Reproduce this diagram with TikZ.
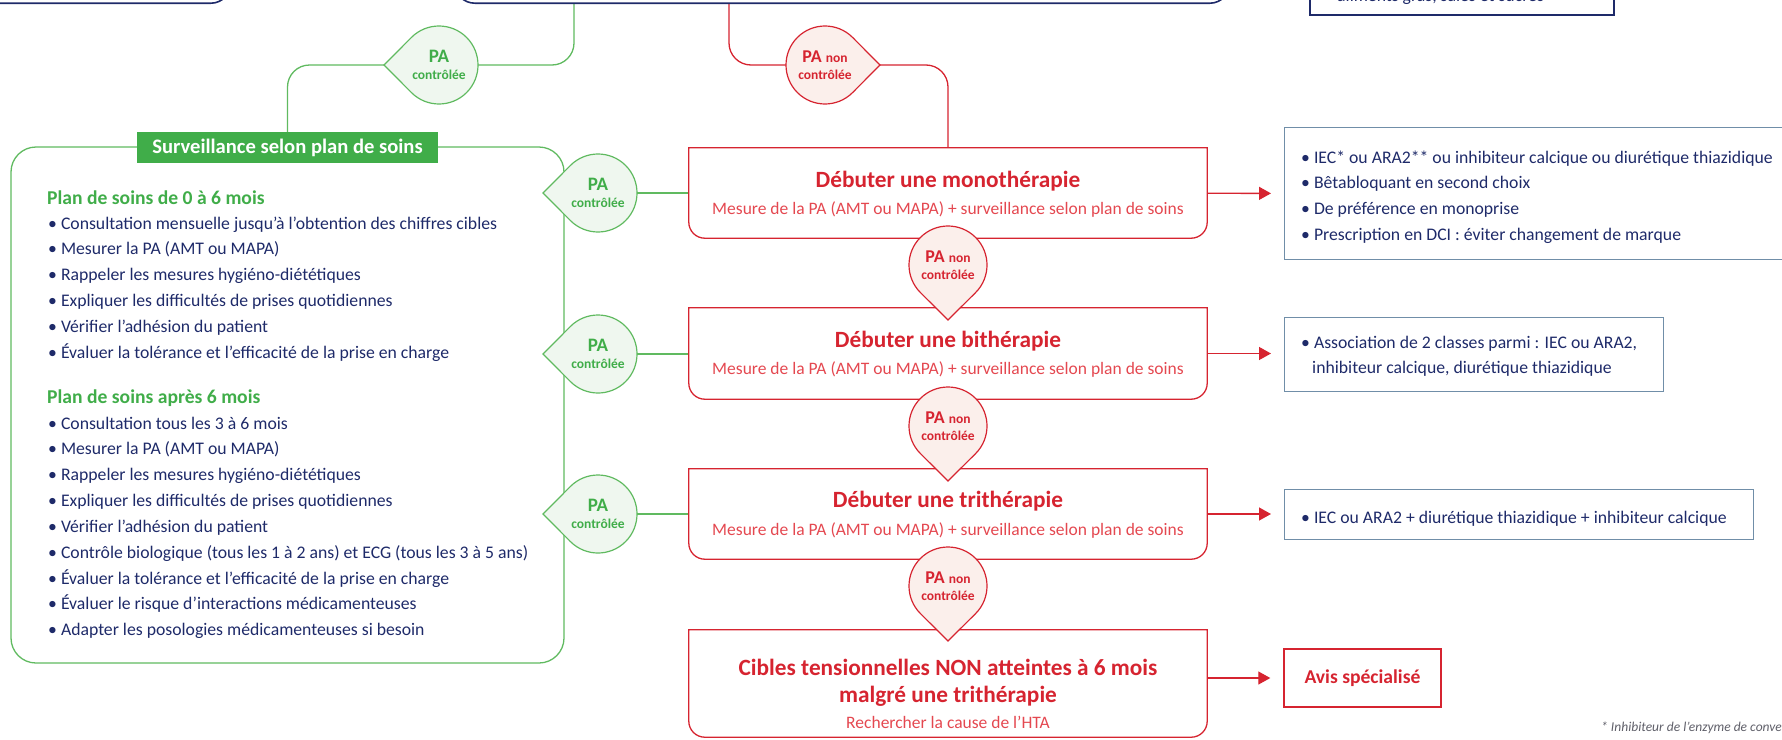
\documentclass[tikz,border=0pt]{standalone}
\usepackage{fontspec}
\setmainfont{Carlito}
\usetikzlibrary{calc,arrows.meta}

\definecolor{hgreen}{RGB}{64,173,73}
\definecolor{hgline}{RGB}{96,186,96}
\definecolor{hgfill}{RGB}{239,247,239}
\definecolor{hred}{RGB}{214,36,48}
\definecolor{hredtxt}{RGB}{228,72,80}
\definecolor{hrfill}{RGB}{251,239,235}
\definecolor{hnavy}{RGB}{30,42,105}
\definecolor{hblue}{RGB}{112,142,168}
\definecolor{hgrey}{RGB}{95,95,105}

\pgfdeclarelayer{background}
\pgfsetlayers{background,main}

\newcommand{\fsz}[2]{\fontsize{#1}{#2}\selectfont}

% droplet: name, centre, tip angle, colour prefix, first line
\newcommand{\drop}[5]{%
  \filldraw[#4drop] ($(#2)+(#3:55)$) -- ($(#2)+(#3+45:39)$)
    arc[start angle=#3+45, delta angle=270, radius=39] -- cycle;
  \node[circle, minimum size=78pt, inner sep=0pt] (#1) at (#2) {};
  \node[#4droptxt, anchor=base] (#1-a) at ($(#2)+(0,-3)$) {#5};
  \node[#4droptxt, font=\bfseries\fsz{13.5}{15}, anchor=base] (#1-b) at ($(#2)+(0,14.5)$) {contrôlée};
}

% red frame, square top and round bottom corners
\newcommand{\redframe}[1]{%
  \draw[rline] (#1.north west) -- ($(#1.south west)+(0,-16)$)
    arc[start angle=180, end angle=90, radius=16]
    -- ($(#1.south east)+(-16,0)$)
    arc[start angle=90, end angle=0, radius=16]
    -- (#1.north east) -- cycle;
}

\begin{document}
\begin{tikzpicture}[x=1pt, y=-1pt,
    gline/.style={draw=hgline, line width=1.3pt},
    rline/.style={draw=hred, line width=1.3pt},
    gdrop/.style={draw=hgline, fill=hgfill, line width=1.2pt},
    rdrop/.style={draw=hred, fill=hrfill, line width=1.2pt},
    gdroptxt/.style={text=hgreen, font=\bfseries\fsz{19}{20}, inner sep=0pt},
    rdroptxt/.style={text=hred, font=\bfseries\fsz{18}{20}, inner sep=0pt},
    redbox/.style={rectangle, minimum width=518pt, inner sep=0pt},
    redtitle/.style={text=hred, font=\bfseries\fsz{23.3}{27}, inner sep=0pt, anchor=base},
    redsub/.style={text=hredtxt, font=\fsz{17.5}{26}, inner sep=0pt, anchor=base},
    bluebox/.style={draw=hblue, line width=1.4pt, rectangle, inner sep=0pt, anchor=north west},
    listitem/.style={text=hnavy, font=\fsz{17.7}{25.8}, inner sep=0pt, anchor=base west},
    plantitle/.style={text=hgreen, font=\bfseries\fsz{19.6}{25.8}, inner sep=0pt, anchor=base west},
    topbox/.style={draw=hnavy, line width=1.6pt, rounded corners=20pt, inner sep=0pt, anchor=south west},
    redarrow/.style={rline, -{Triangle[length=12pt, width=13pt]}, shorten >=13pt},
]
    \useasboundingbox (0,0) rectangle (1782,739);
    \clip (0,0) rectangle (1782,739);

    % Boxes cut by the top edge
    \node[topbox, minimum width=300pt, minimum height=120pt] (lft) at (-70,4) {};
    \node[topbox, minimum width=775pt, minimum height=120pt] (ctr) at (454,4) {};
    \node[topbox, sharp corners, minimum width=304pt, minimum height=100pt] (rgt) at (1309,16) {};
    \node[listitem] (rgt-t) at (1337,1) {aliments gras, salés et sucrés};

    % Care plan
    \node[draw=hgline, line width=1.3pt, rounded corners=25pt, minimum width=553pt,
          minimum height=516pt, inner sep=0pt] (plan) at (287.5,405) {};
    \node[fill=hgreen, text=white, font=\bfseries\fsz{20.6}{24}, minimum width=301pt,
          minimum height=31pt, inner sep=0pt] (head) at (287.5,147.5) {Surveillance selon plan de soins};

    \node[plantitle] (pl1) at (47,204.5) {Plan de soins de 0 à 6 mois};
    \foreach \t [count=\i from 0] in {Consultation mensuelle jusqu’à l’obtention des chiffres cibles,
        Mesurer la PA (AMT ou MAPA), Rappeler les mesures hygiéno-diététiques,
        Expliquer les difficultés de prises quotidiennes, Vérifier l’adhésion du patient,
        Évaluer la tolérance et l’efficacité de la prise en charge}
        \node[listitem] (pa\i) at (48,{229+25.8*\i}) {• \t};

    \node[plantitle] (pl2) at (47,403) {Plan de soins après 6 mois};
    \foreach \t [count=\i from 0] in {Consultation tous les 3 à 6 mois,
        Mesurer la PA (AMT ou MAPA), Rappeler les mesures hygiéno-diététiques,
        Expliquer les difficultés de prises quotidiennes, Vérifier l’adhésion du patient,
        Contrôle biologique (tous les 1 à 2 ans) et ECG (tous les 3 à 5 ans),
        Évaluer la tolérance et l’efficacité de la prise en charge,
        Évaluer le risque d’interactions médicamenteuses,
        Adapter les posologies médicamenteuses si besoin}
        \node[listitem] (pb\i) at (48,{429+25.85*\i}) {• \t};

    % Treatment steps
    \node[redbox, minimum height=90pt] (mono) at (948,193) {};
    \redframe{mono}
    \node[redtitle] (mono-t) at (948,187) {Débuter une monothérapie};
    \node[redsub] (mono-s) at (948,214) {Mesure de la PA (AMT ou MAPA) + surveillance selon plan de soins};

    \node[redbox, minimum height=91pt] (bi) at (948,353.5) {};
    \redframe{bi}
    \node[redtitle] (bi-t) at (948,347.5) {Débuter une bithérapie};
    \node[redsub] (bi-s) at (948,374) {Mesure de la PA (AMT ou MAPA) + surveillance selon plan de soins};

    \node[redbox, minimum height=90pt] (tri) at (948,514) {};
    \redframe{tri}
    \node[redtitle] (tri-t) at (948,507.5) {Débuter une trithérapie};
    \node[redsub] (tri-s) at (948,535) {Mesure de la PA (AMT ou MAPA) + surveillance selon plan de soins};

    \node[redbox, minimum height=107pt] (cible) at (948,683.5) {};
    \redframe{cible}
    \node[redtitle] (cible-t1) at (948,675.5) {Cibles tensionnelles NON atteintes à 6 mois};
    \node[redtitle] (cible-t2) at (948,702.5) {malgré une trithérapie};
    \node[redsub] (cible-s) at (948,728) {Rechercher la cause de l’HTA};

    % Drugs
    \node[bluebox, minimum width=516pt, minimum height=132pt] (iec) at (1284,127) {};
    \foreach \t [count=\i from 0] in {IEC* ou ARA2** ou inhibiteur calcique ou diurétique thiazidique,
        Bêtabloquant en second choix, De préférence en monoprise,
        Prescription en DCI : éviter changement de marque}
        \node[listitem] (iec\i) at (1301,{163+25.7*\i}) {• \t};

    \node[bluebox, minimum width=379pt, minimum height=74pt] (asso) at (1284,317) {};
    \node[listitem] (asso1) at (1301,348) {• Association de 2 classes parmi : IEC ou ARA2,};
    \node[listitem] (asso2) at (1312,373) {inhibiteur calcique, diurétique thiazidique};

    \node[bluebox, minimum width=469pt, minimum height=50pt] (trio) at (1284,489) {};
    \node[listitem] (trio1) at (1301,523) {• IEC ou ARA2 + diurétique thiazidique + inhibiteur calcique};

    \node[draw=hred, line width=1.4pt, text=hred, font=\bfseries\fsz{19.6}{22}, minimum width=157pt,
          minimum height=58pt, inner sep=0pt] (avis) at (1362.5,678) {Avis spécialisé};

    \node[text=hgrey, font=\itshape\fsz{13.5}{16}, anchor=base west, inner sep=0pt] (note)
        at (1601,731) {* Inhibiteur de l’enzyme de conversion};

    % Droplets
    \drop{dg0}{439,65}{180}{g}{PA}
    \drop{dr0}{825,65}{0}{r}{PA {\fsz{13.5}{15}non}}
    \drop{dg1}{598,193}{180}{g}{PA}
    \drop{dg2}{598,354}{180}{g}{PA}
    \drop{dg3}{598,514}{180}{g}{PA}
    \drop{dr1}{948,265}{90}{r}{PA {\fsz{13.5}{15}non}}
    \drop{dr2}{948,426}{90}{r}{PA {\fsz{13.5}{15}non}}
    \drop{dr3}{948,586}{90}{r}{PA {\fsz{13.5}{15}non}}

    % Arrows to the drugs
    \draw[redarrow] (mono) -- (iec);
    \draw[redarrow] (bi.east) -- (bi.east -| asso.west);
    \draw[redarrow] (tri.east) -- (tri.east -| trio.west);
    \draw[redarrow] (cible.east |- avis) -- (avis.west);

    % Connectors under the droplets
    \begin{pgfonlayer}{background}
        \draw[gline, rounded corners=22pt] ([xshift=120pt]ctr.south west) |- (dg0);
        \draw[gline, rounded corners=22pt] (dg0) -| (head.north);
        \draw[rline, rounded corners=22pt] ([xshift=275pt]ctr.south west) |- (dr0);
        \draw[rline, rounded corners=22pt] (dr0) -| (mono.north);
        \draw[gline] (dg1) -- (mono);
        \draw[gline] (dg2) -- (dg2 -| bi.west);
        \draw[gline] (dg3) -- (dg3 -| tri.west);
    \end{pgfonlayer}

\end{tikzpicture}
\end{document}
